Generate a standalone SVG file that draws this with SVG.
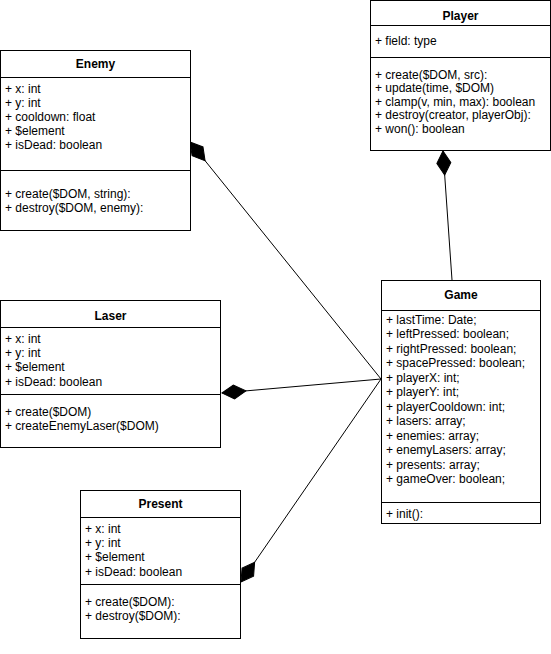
<svg xmlns="http://www.w3.org/2000/svg" width="551" height="654" viewBox="0 0 551 654">
<style>
.box{fill:#fff;stroke:#000;stroke-width:1}
.sep{stroke:#000;stroke-width:1}
.t{font-family:"Liberation Sans",Arial,sans-serif;font-size:12px;fill:#000}
.h{font-family:"Liberation Sans",Arial,sans-serif;font-size:12px;font-weight:bold;fill:#000;text-anchor:middle}
.edge{fill:none;stroke:#000;stroke-width:1}
</style>
<defs>
<marker id="diamond" markerUnits="userSpaceOnUse" markerWidth="28" markerHeight="18" refX="1" refY="8" orient="auto" overflow="visible">
<path d="M1,8 L13,1 L25,8 L13,15 Z" fill="#000" stroke="#000" stroke-width="1"/>
</marker>
</defs>
<rect width="551" height="654" fill="#fff"/>
<g id="connectors">
<path class="edge" d="M190,142 L381,379" marker-start="url(#diamond)"/>
<path class="edge" d="M222,393 L381,379" marker-start="url(#diamond)"/>
<path class="edge" d="M241,582 L381,379" marker-start="url(#diamond)"/>
<path class="edge" d="M443,151 L452,280" marker-start="url(#diamond)"/>
</g>
<g id="enemy">
<rect class="box" x="0.5" y="50.5" width="190" height="180"/>
<line class="sep" x1="0.5" y1="77.5" x2="190.5" y2="77.5"/>
<line class="sep" x1="0.5" y1="170.5" x2="190.5" y2="170.5"/>
<text class="h" x="95.5" y="68">Enemy</text>
<text class="t" x="5" y="92.5">+ x: int</text>
<text class="t" x="5" y="106.5">+ y: int</text>
<text class="t" x="5" y="120.5">+ cooldown: float</text>
<text class="t" x="5" y="134.5">+ $element</text>
<text class="t" x="5" y="148.5">+ isDead: boolean</text>
<text class="t" x="5" y="198">+ create($DOM, string):</text>
<text class="t" x="5" y="212">+ destroy($DOM, enemy):</text>
</g>
<g id="player">
<rect class="box" x="370.5" y="0.5" width="180" height="150"/>
<line class="sep" x1="370.5" y1="25.5" x2="550.5" y2="25.5"/>
<line class="sep" x1="370.5" y1="57.5" x2="550.5" y2="57.5"/>
<text class="h" x="460.5" y="19.5">Player</text>
<text class="t" x="375" y="45">+ field: type</text>
<text class="t" x="375" y="78.5">+ create($DOM, src):</text>
<text class="t" x="375" y="92">+ update(time, $DOM)</text>
<text class="t" x="375" y="105.5">+ clamp(v, min, max): boolean</text>
<text class="t" x="375" y="119">+ destroy(creator, playerObj):</text>
<text class="t" x="375" y="132.5">+ won(): boolean</text>
</g>
<g id="game">
<rect class="box" x="381.5" y="280.5" width="159" height="243"/>
<line class="sep" x1="381.5" y1="310.5" x2="540.5" y2="310.5"/>
<line class="sep" x1="381.5" y1="502.5" x2="540.5" y2="502.5"/>
<text class="h" x="461" y="298.5">Game</text>
<text class="t" x="386" y="323.5">+ lastTime: Date;</text>
<text class="t" x="386" y="338">+ leftPressed: boolean;</text>
<text class="t" x="386" y="352.5">+ rightPressed: boolean;</text>
<text class="t" x="386" y="367">+ spacePressed: boolean;</text>
<text class="t" x="386" y="381.5">+ playerX: int;</text>
<text class="t" x="386" y="396">+ playerY: int;</text>
<text class="t" x="386" y="410.5">+ playerCooldown: int;</text>
<text class="t" x="386" y="425">+ lasers: array;</text>
<text class="t" x="386" y="439.5">+ enemies: array;</text>
<text class="t" x="386" y="454">+ enemyLasers: array;</text>
<text class="t" x="386" y="468.5">+ presents: array;</text>
<text class="t" x="386" y="483">+ gameOver: boolean;</text>
<text class="t" x="386" y="518">+ init():</text>
</g>
<g id="laser">
<rect class="box" x="0.5" y="300.5" width="220" height="147"/>
<line class="sep" x1="0.5" y1="327.5" x2="220.5" y2="327.5"/>
<line class="sep" x1="0.5" y1="394.5" x2="220.5" y2="394.5"/>
<text class="h" x="110.5" y="320">Laser</text>
<text class="t" x="5" y="342.5">+ x: int</text>
<text class="t" x="5" y="357">+ y: int</text>
<text class="t" x="5" y="371">+ $element</text>
<text class="t" x="5" y="385.5">+ isDead: boolean</text>
<text class="t" x="5" y="416">+ create($DOM)</text>
<text class="t" x="5" y="430">+ createEnemyLaser($DOM)</text>
</g>
<g id="present">
<rect class="box" x="80.5" y="490.5" width="160" height="148"/>
<line class="sep" x1="80.5" y1="517.5" x2="240.5" y2="517.5"/>
<line class="sep" x1="80.5" y1="584.5" x2="240.5" y2="584.5"/>
<text class="h" x="160.5" y="507.5">Present</text>
<text class="t" x="85" y="532.5">+ x: int</text>
<text class="t" x="85" y="547">+ y: int</text>
<text class="t" x="85" y="561">+ $element</text>
<text class="t" x="85" y="575.5">+ isDead: boolean</text>
<text class="t" x="85" y="606">+ create($DOM):</text>
<text class="t" x="85" y="620">+ destroy($DOM):</text>
</g>
</svg>
